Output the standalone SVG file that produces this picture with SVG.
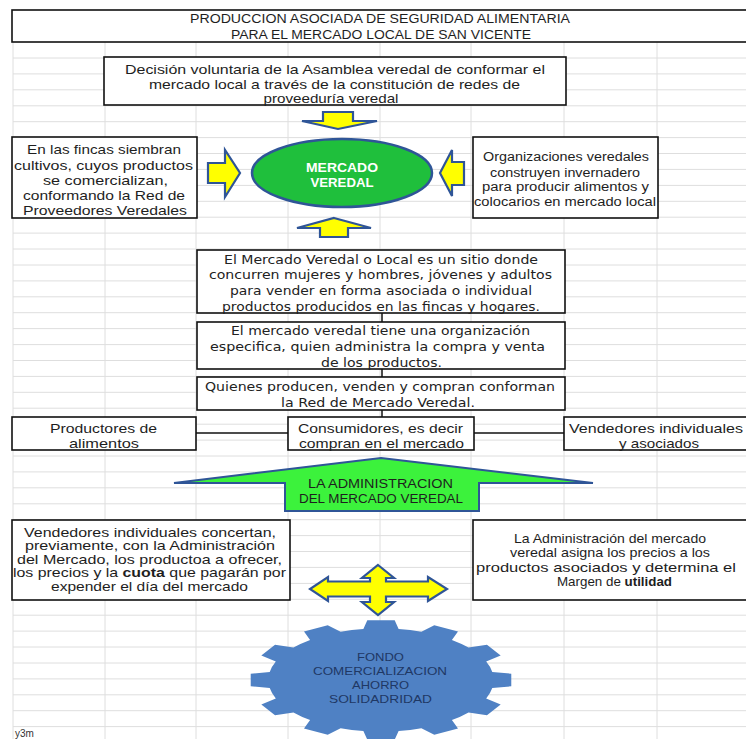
<svg xmlns="http://www.w3.org/2000/svg" width="746" height="739" viewBox="0 0 746 739">
<style>
.grid line{stroke:#dedede;stroke-width:1}
.box{fill:#fff;stroke:#111;stroke-width:1.6}
.t{font-family:"Liberation Sans",Arial,sans-serif;fill:#1e1e1e;text-anchor:middle}
.v{font-family:"DejaVu Sans",Verdana,sans-serif;fill:#222;text-anchor:middle;font-size:12px}
.ya{fill:#ffff00;stroke:#2f5597;stroke-width:2.2;stroke-linejoin:miter}
.ln{stroke:#111;stroke-width:1.5;fill:none}
</style>
<rect width="746" height="739" fill="#fff"/>
<g class="grid">
<line x1="13" y1="42" x2="13" y2="739"/>
<line x1="105" y1="42" x2="105" y2="739"/>
<line x1="196" y1="42" x2="196" y2="739"/>
<line x1="288" y1="42" x2="288" y2="739"/>
<line x1="380" y1="42" x2="380" y2="739"/>
<line x1="471" y1="42" x2="471" y2="739"/>
<line x1="564" y1="42" x2="564" y2="739"/>
<line x1="657" y1="42" x2="657" y2="739"/>
<line x1="13" y1="58" x2="746" y2="58"/>
<line x1="13" y1="73.9" x2="746" y2="73.9"/>
<line x1="13" y1="89.8" x2="746" y2="89.8"/>
<line x1="13" y1="105.8" x2="746" y2="105.8"/>
<line x1="13" y1="121.7" x2="746" y2="121.7"/>
<line x1="13" y1="137.6" x2="746" y2="137.6"/>
<line x1="13" y1="153.5" x2="746" y2="153.5"/>
<line x1="13" y1="169.4" x2="746" y2="169.4"/>
<line x1="13" y1="185.4" x2="746" y2="185.4"/>
<line x1="13" y1="201.3" x2="746" y2="201.3"/>
<line x1="13" y1="217.2" x2="746" y2="217.2"/>
<line x1="13" y1="233.1" x2="746" y2="233.1"/>
<line x1="13" y1="249" x2="746" y2="249"/>
<line x1="13" y1="265" x2="746" y2="265"/>
<line x1="13" y1="280.9" x2="746" y2="280.9"/>
<line x1="13" y1="296.8" x2="746" y2="296.8"/>
<line x1="13" y1="312.7" x2="746" y2="312.7"/>
<line x1="13" y1="328.6" x2="746" y2="328.6"/>
<line x1="13" y1="344.6" x2="746" y2="344.6"/>
<line x1="13" y1="360.5" x2="746" y2="360.5"/>
<line x1="13" y1="376.4" x2="746" y2="376.4"/>
<line x1="13" y1="392.3" x2="746" y2="392.3"/>
<line x1="13" y1="408.2" x2="746" y2="408.2"/>
<line x1="13" y1="424.2" x2="746" y2="424.2"/>
<line x1="13" y1="440.1" x2="746" y2="440.1"/>
<line x1="13" y1="456" x2="746" y2="456"/>
<line x1="13" y1="471.9" x2="746" y2="471.9"/>
<line x1="13" y1="487.8" x2="746" y2="487.8"/>
<line x1="13" y1="503.8" x2="746" y2="503.8"/>
<line x1="13" y1="519.7" x2="746" y2="519.7"/>
<line x1="13" y1="535.6" x2="746" y2="535.6"/>
<line x1="13" y1="551.5" x2="746" y2="551.5"/>
<line x1="13" y1="567.4" x2="746" y2="567.4"/>
<line x1="13" y1="583.4" x2="746" y2="583.4"/>
<line x1="13" y1="599.3" x2="746" y2="599.3"/>
<line x1="13" y1="615.2" x2="746" y2="615.2"/>
<line x1="13" y1="631.1" x2="746" y2="631.1"/>
<line x1="13" y1="647" x2="746" y2="647"/>
<line x1="13" y1="663" x2="746" y2="663"/>
<line x1="13" y1="678.9" x2="746" y2="678.9"/>
<line x1="13" y1="694.8" x2="746" y2="694.8"/>
<line x1="13" y1="710.7" x2="746" y2="710.7"/>
<line x1="13" y1="726.6" x2="746" y2="726.6"/>
</g>

<g id="connectors">
<line class="ln" x1="382" y1="313" x2="382" y2="322"/>
<line class="ln" x1="382" y1="369" x2="382" y2="377"/>
<line class="ln" x1="382" y1="410" x2="382" y2="417"/>
<line class="ln" x1="196" y1="433" x2="288" y2="433"/>
<line class="ln" x1="474" y1="433" x2="564" y2="433"/>
<polygon class="ya" points="323,112 353,112 353,121 377,121 338,129 302,121 323,121"/>
<polygon class="ya" points="334,218 371,228 348,228 348,237 320,237 320,228 297,228"/>
<polygon class="ya" points="208,163 225,163 225,150 240,173 225,197 225,183 208,183"/>
<polygon class="ya" points="464,162 452,162 452,150 440,173 452,196 452,185 464,185"/>
<polygon class="ya" points="378,565 394,578 386,578 386,581.5 428,581.5 428,577 447,589 428,601 428,596.5 386,596.5 386,602 394,602 378,615 362,602 370,602 370,596.5 328,596.5 328,601 310,589 328,577 328,581.5 370,581.5 370,578 362,578"/>
</g>

<g id="title">
<rect class="box" x="12" y="10" width="740" height="32"/>
<text class="t" font-size="12.5" x="380" y="22.5" textLength="380" lengthAdjust="spacingAndGlyphs">PRODUCCION ASOCIADA DE SEGURIDAD ALIMENTARIA</text>
<text class="t" font-size="12.5" x="381" y="38.5" textLength="300" lengthAdjust="spacingAndGlyphs">PARA EL MERCADO LOCAL DE SAN VICENTE</text>
</g>

<g id="decision">
<rect class="box" x="104" y="57" width="462" height="48"/>
<text class="t" font-size="13" x="335" y="73.5" textLength="420" lengthAdjust="spacingAndGlyphs">Decisión voluntaria de la Asamblea veredal de conformar el</text>
<text class="t" font-size="13" x="334.5" y="88.5" textLength="371" lengthAdjust="spacingAndGlyphs">mercado local a través de la constitución de redes de</text>
<text class="t" font-size="13" x="331" y="102.5" textLength="135" lengthAdjust="spacingAndGlyphs">proveeduría veredal</text>
</g>

<g id="fincas">
<rect class="box" x="12" y="137" width="185" height="81"/>
<text class="t" font-size="13.5" x="104" y="153.5" textLength="154" lengthAdjust="spacingAndGlyphs">En las fincas siembran</text>
<text class="t" font-size="13.5" x="103.5" y="169.5" textLength="179" lengthAdjust="spacingAndGlyphs">cultivos, cuyos productos</text>
<text class="t" font-size="13.5" x="105.5" y="184.5" textLength="125" lengthAdjust="spacingAndGlyphs">se comercializan,</text>
<text class="t" font-size="13.5" x="104" y="199.5" textLength="162" lengthAdjust="spacingAndGlyphs">conformando la Red de</text>
<text class="t" font-size="13.5" x="105" y="214.5" textLength="164" lengthAdjust="spacingAndGlyphs">Proveedores Veredales</text>
</g>

<g id="mercado">
<ellipse cx="342" cy="173" rx="90" ry="34" fill="#1fbf3c" stroke="#2f5597" stroke-width="2.5"/>
<text class="t" font-size="12" font-weight="bold" style="fill:#fff" x="342" y="172" textLength="72" lengthAdjust="spacingAndGlyphs">MERCADO</text>
<text class="t" font-size="12" font-weight="bold" style="fill:#fff" x="342" y="186.5" textLength="63" lengthAdjust="spacingAndGlyphs">VEREDAL</text>
</g>

<g id="organizaciones">
<rect class="box" x="473" y="137" width="185" height="81"/>
<text class="t" font-size="12.5" x="566" y="161" textLength="166" lengthAdjust="spacingAndGlyphs">Organizaciones veredales</text>
<text class="t" font-size="12.5" x="565" y="176.5" textLength="150" lengthAdjust="spacingAndGlyphs">construyen invernadero</text>
<text class="t" font-size="12.5" x="565.5" y="191" textLength="167" lengthAdjust="spacingAndGlyphs">para producir alimentos y</text>
<text class="t" font-size="12.5" x="565" y="206" textLength="182" lengthAdjust="spacingAndGlyphs">colocarios en mercado local</text>
</g>

<g id="sitio">
<rect class="box" x="197" y="250" width="368" height="63"/>
<text class="v" x="381" y="263.5" textLength="314" lengthAdjust="spacingAndGlyphs">El Mercado Veredal o Local es un sitio donde</text>
<text class="v" x="380.5" y="279" textLength="343" lengthAdjust="spacingAndGlyphs">concurren mujeres y hombres, jóvenes y adultos</text>
<text class="v" x="381" y="295" textLength="302" lengthAdjust="spacingAndGlyphs">para vender en forma asociada o individual</text>
<text class="v" x="381" y="311" textLength="318" lengthAdjust="spacingAndGlyphs">productos producidos en las fincas y hogares.</text>
</g>

<g id="organizacion">
<rect class="box" x="197" y="322" width="368" height="47"/>
<text class="v" x="380.5" y="334.5" textLength="299" lengthAdjust="spacingAndGlyphs">El mercado veredal tiene una organización</text>
<text class="v" x="377.5" y="351" textLength="335" lengthAdjust="spacingAndGlyphs">especifica, quien administra la compra y venta</text>
<text class="v" x="381.5" y="366.5" textLength="121" lengthAdjust="spacingAndGlyphs">de los productos.</text>
</g>

<g id="red">
<rect class="box" x="197" y="377" width="368" height="33"/>
<text class="v" x="380" y="391" textLength="350" lengthAdjust="spacingAndGlyphs">Quienes producen, venden y compran conforman</text>
<text class="v" x="378" y="406.5" textLength="194" lengthAdjust="spacingAndGlyphs">la Red  de Mercado Veredal.</text>
</g>

<g id="productores">
<rect class="box" x="12" y="417" width="184" height="33"/>
<text class="t" font-size="13.5" x="103.5" y="432.5" textLength="107" lengthAdjust="spacingAndGlyphs">Productores de</text>
<text class="t" font-size="13.5" x="104" y="447.5" textLength="70" lengthAdjust="spacingAndGlyphs">alimentos</text>
</g>

<g id="consumidores">
<rect class="box" x="288" y="417" width="186" height="33"/>
<text class="t" font-size="13.5" x="380.5" y="432.5" textLength="165" lengthAdjust="spacingAndGlyphs">Consumidores, es decir</text>
<text class="t" font-size="13.5" x="381.5" y="447.5" textLength="165" lengthAdjust="spacingAndGlyphs">compran en el mercado</text>
</g>

<g id="vendedores">
<rect class="box" x="564" y="417" width="190" height="33"/>
<text class="t" font-size="13.5" x="656" y="432.5" textLength="174" lengthAdjust="spacingAndGlyphs">Vendedores individuales</text>
<text class="t" font-size="13.5" x="659" y="447.5" textLength="80" lengthAdjust="spacingAndGlyphs">y asociados</text>
</g>

<g id="administracion">
<polygon points="381,458 593,483 479,483 479,511 285,511 285,483 174,483" fill="#3cf23c" stroke="#2f5597" stroke-width="2" stroke-linejoin="miter"/>
<text class="t" font-size="12" x="380.5" y="487.5" textLength="145" lengthAdjust="spacingAndGlyphs">LA ADMINISTRACION</text>
<text class="t" font-size="12" x="381" y="502.5" textLength="164" lengthAdjust="spacingAndGlyphs">DEL MERCADO VEREDAL</text>
</g>

<g id="concertan">
<rect class="box" x="12" y="520" width="278" height="80"/>
<text class="t" font-size="13" x="150" y="536.5" textLength="252" lengthAdjust="spacingAndGlyphs">Vendedores individuales concertan,</text>
<text class="t" font-size="13" x="150" y="550" textLength="250" lengthAdjust="spacingAndGlyphs">previamente, con la Administración</text>
<text class="t" font-size="13" x="149.5" y="563.5" textLength="265" lengthAdjust="spacingAndGlyphs">del Mercado, los productoa a ofrecer,</text>
<text class="t" font-size="13" x="149.5" y="577" textLength="273" lengthAdjust="spacingAndGlyphs">los precios y la <tspan font-weight="bold">cuota</tspan> que pagarán por</text>
<text class="t" font-size="13" x="149.5" y="590.5" textLength="197" lengthAdjust="spacingAndGlyphs">expender el día del mercado</text>
</g>

<g id="precios">
<rect class="box" x="473" y="520" width="280" height="80"/>
<text class="t" font-size="13" x="610" y="542.5" textLength="192" lengthAdjust="spacingAndGlyphs">La Administración del mercado</text>
<text class="t" font-size="13" x="610" y="557" textLength="200" lengthAdjust="spacingAndGlyphs">veredal asigna los precios a los</text>
<text class="t" font-size="13" x="606" y="571.5" textLength="260" lengthAdjust="spacingAndGlyphs">productos asociados y determina el</text>
<text class="t" font-size="13" x="614.5" y="586" textLength="115" lengthAdjust="spacingAndGlyphs">Margen de <tspan font-weight="bold">utilidad</tspan></text>
</g>

<g id="fondo">
<path transform="translate(381,680) scale(1.31,0.6)" fill="#4f81c4" d="M -13.45,-84.94 L -10.45,-99.45 L 10.45,-99.45 L 13.45,-84.94 A 86 86 0 0 1 30.82,-80.29 L 40.67,-91.35 L 58.78,-80.90 L 54.12,-66.83 A 86 86 0 0 1 66.83,-54.12 L 80.90,-58.78 L 91.35,-40.67 L 80.29,-30.82 A 86 86 0 0 1 84.94,-13.45 L 99.45,-10.45 L 99.45,10.45 L 84.94,13.45 A 86 86 0 0 1 80.29,30.82 L 91.35,40.67 L 80.90,58.78 L 66.83,54.12 A 86 86 0 0 1 54.12,66.83 L 58.78,80.90 L 40.67,91.35 L 30.82,80.29 A 86 86 0 0 1 13.45,84.94 L 10.45,99.45 L -10.45,99.45 L -13.45,84.94 A 86 86 0 0 1 -30.82,80.29 L -40.67,91.35 L -58.78,80.90 L -54.12,66.83 A 86 86 0 0 1 -66.83,54.12 L -80.90,58.78 L -91.35,40.67 L -80.29,30.82 A 86 86 0 0 1 -84.94,13.45 L -99.45,10.45 L -99.45,-10.45 L -84.94,-13.45 A 86 86 0 0 1 -80.29,-30.82 L -91.35,-40.67 L -80.90,-58.78 L -66.83,-54.12 A 86 86 0 0 1 -54.12,-66.83 L -58.78,-80.90 L -40.67,-91.35 L -30.82,-80.29 A 86 86 0 0 1 -13.45,-84.94 Z"/>
<text class="t" font-size="11.5" style="fill:#1f3864" x="380.5" y="661" textLength="47" lengthAdjust="spacingAndGlyphs">FONDO</text>
<text class="t" font-size="11.5" style="fill:#1f3864" x="380" y="675" textLength="134" lengthAdjust="spacingAndGlyphs">COMERCIALIZACION</text>
<text class="t" font-size="11.5" style="fill:#1f3864" x="380.5" y="688.5" textLength="57" lengthAdjust="spacingAndGlyphs">AHORRO</text>
<text class="t" font-size="11.5" style="fill:#1f3864" x="380.5" y="703" textLength="103" lengthAdjust="spacingAndGlyphs">SOLIDADRIDAD</text>
</g>

<text font-family="Liberation Sans, Arial, sans-serif" font-size="10" fill="#333" x="15" y="737">y3m</text>
</svg>
